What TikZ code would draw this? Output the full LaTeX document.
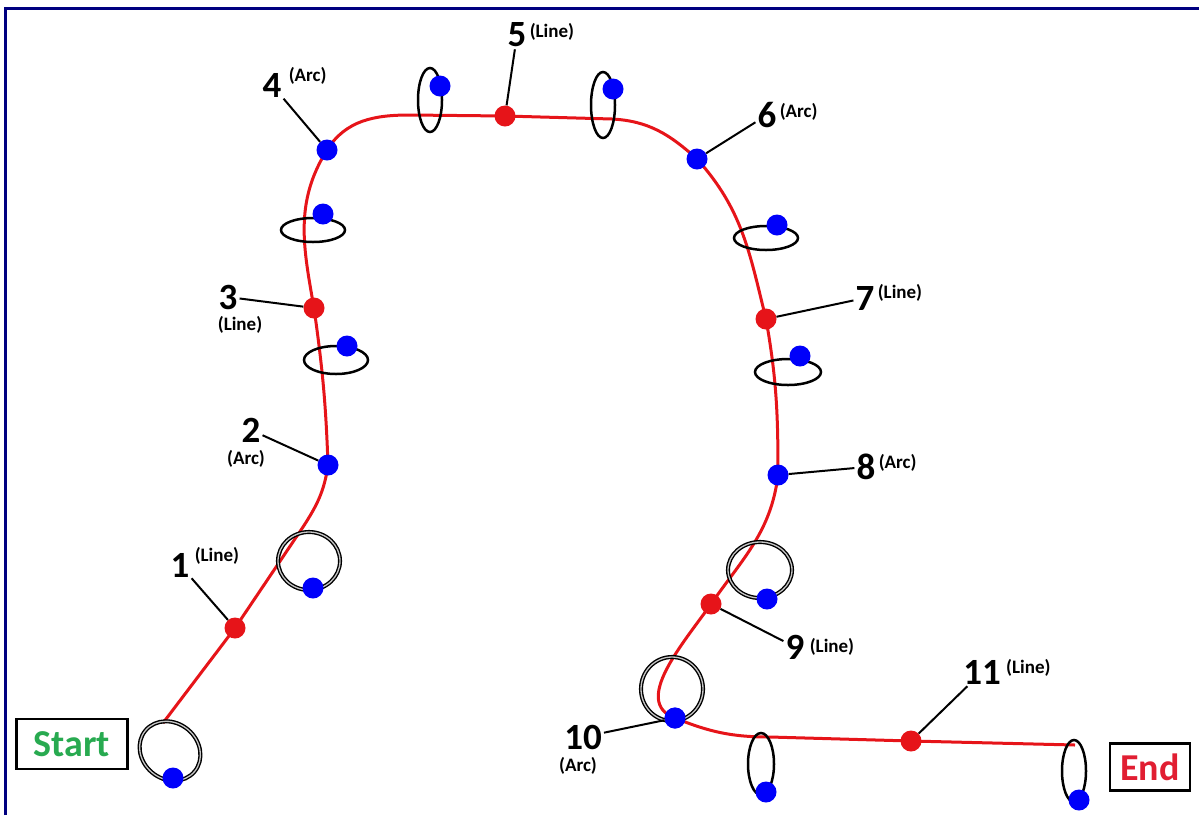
\documentclass[tikz,border=0pt]{standalone}
\usepackage{fontspec}
\setmainfont{Carlito}
\usetikzlibrary{positioning, backgrounds}
\definecolor{navyline}{RGB}{0,0,128}
\definecolor{pathred}{RGB}{230,20,25}
\definecolor{dotblue}{RGB}{0,0,250}
\definecolor{startgreen}{RGB}{40,170,80}
\definecolor{endred}{RGB}{225,30,50}

\begin{document}
\begin{tikzpicture}[x=1pt, y=-1pt,
  rdot/.style={circle, fill=pathred, minimum size=21pt, inner sep=0pt},
  bdot/.style={circle, fill=dotblue, minimum size=21pt, inner sep=0pt},
  num/.style={font=\fontsize{37}{37}\selectfont\bfseries, inner sep=2pt},
  tag/.style={font=\fontsize{19}{19}\selectfont\bfseries, inner sep=0pt},
  leader/.style={line width=2pt},
  ring/.style={line width=2.5pt},
  dring/.style={draw=black, double=gray!45, double distance=1.3pt, line width=1.4pt},
  route/.style={pathred, line width=3pt},
  endbox/.style={draw, line width=2.6pt, font=\fontsize{38}{38}\selectfont\bfseries, minimum height=50pt}]
\useasboundingbox (0,0) rectangle (1199,815);
\draw[navyline, line width=3pt] (5,815) -- (5,8.5) -- (1199,8.5);

% points on the route
\node[rdot] (p1) at (235,628) {};
\node[bdot] (p2) at (328,465) {};
\node[rdot] (p3) at (314,308) {};
\node[bdot] (p4) at (327,150) {};
\node[rdot] (p5) at (505,116) {};
\node[bdot] (p6) at (697,159) {};
\node[rdot] (p7) at (766,319) {};
\node[bdot] (p8) at (778,475) {};
\node[rdot] (p9) at (711,604) {};
\node[bdot] (p10) at (675,718) {};
\node[rdot] (p11) at (911,741) {};
\coordinate (s0) at (163,723);
\coordinate (k1) at (303,527);
\coordinate (k4) at (410,115);
\coordinate (k5) at (612,119);
\coordinate (k10) at (770,737);
\coordinate (e0) at (1075,745);

\begin{pgfonlayer}{background}
\draw[route] (s0) -- (p1.center) -- (k1) to[out=57,in=-98] (p2.center)
  to[out=92,in=-82] (p3.center) to[out=100,in=-122] (p4.center)
  to[out=58,in=180] (k4) -- (p5.center) -- (k5)
  to[out=-3,in=138] (p6.center) to[out=-48,in=104] (p7.center)
  to[out=-80,in=90] (p8.center) to[out=-97,in=55] (p9.center)
  to[out=-125,in=160] (p10.center) to[out=-22,in=180] (k10)
  -- (p11.center) -- (e0);
\end{pgfonlayer}

% loops with their blue points
\foreach \cx/\cy/\rx/\ry/\rot/\bx/\by/\st [count=\i] in {
  170/751/32/28/-40/173/778/dring, 309/561/31/29/0/313/588/dring,
  336/360/32/14/0/347/346/ring, 313/230/32/12/0/323/214/ring,
  430/100/12/32/0/440/86/ring, 603/105/12/33/0/613/89/ring,
  766/238/32/12/0/777/225/ring, 788/372/33/13/0/800/356/ring,
  760/570/32/28/0/767/599/dring, 761/764/13/31/0/766/792/ring,
  1074/771/12/31/0/1079/800/ring}
{
  \draw[\st, rotate around={\rot:(\cx,\cy)}] (\cx,\cy) ellipse [x radius=\rx, y radius=\ry];
  \node[bdot] (b\i) at (\bx,\by) {};
}
\draw[dring] (672,689) ellipse [x radius=31, y radius=32];
\node[bdot] at (p10) {};

% labels
\node[num] (n1) at (180,565) {1};
\node[tag, right=3pt of n1, yshift=9pt] (t1) {(Line)};
\node[num] (n2) at (251,430) {2};
\node[tag, below=6pt of n2, xshift=-5pt] (t2) {(Arc)};
\node[num] (n3) at (228,297) {3};
\node[tag, below=5pt of n3, xshift=12pt] (t3) {(Line)};
\node[num] (n4) at (272,85) {4};
\node[tag, right=5pt of n4, yshift=9pt] (t4) {(Arc)};
\node[num] (n5) at (517,35) {5};
\node[tag, right=1pt of n5, yshift=3pt] (t5) {(Line)};
\node[num] (n6) at (767,115) {6};
\node[tag, right=1pt of n6, yshift=3pt] (t6) {(Arc)};
\node[num] (n7) at (865,298) {7};
\node[tag, right=1pt of n7, yshift=5pt] (t7) {(Line)};
\node[num] (n8) at (866,467) {8};
\node[tag, right=1pt of n8, yshift=4pt] (t8) {(Arc)};
\node[num] (n9) at (795,647) {9};
\node[tag, right=3pt of n9] (t9) {(Line)};
\node[num] (n10) at (583,737) {10};
\node[tag, below=6pt of n10, xshift=-5pt] (t10) {(Arc)};
\node[num] (n11) at (982,672) {11};
\node[tag, right=3pt of n11, yshift=4pt] (t11) {(Line)};

\foreach \k in {1,...,11} \draw[leader] (n\k) -- (p\k);

\node[endbox, text=startgreen, minimum width=111pt] (start) at (72,744) {Start};
\node[endbox, text=endred, minimum width=80pt, minimum height=47pt] (end) at (1150,767) {End};
\end{tikzpicture}
\end{document}
